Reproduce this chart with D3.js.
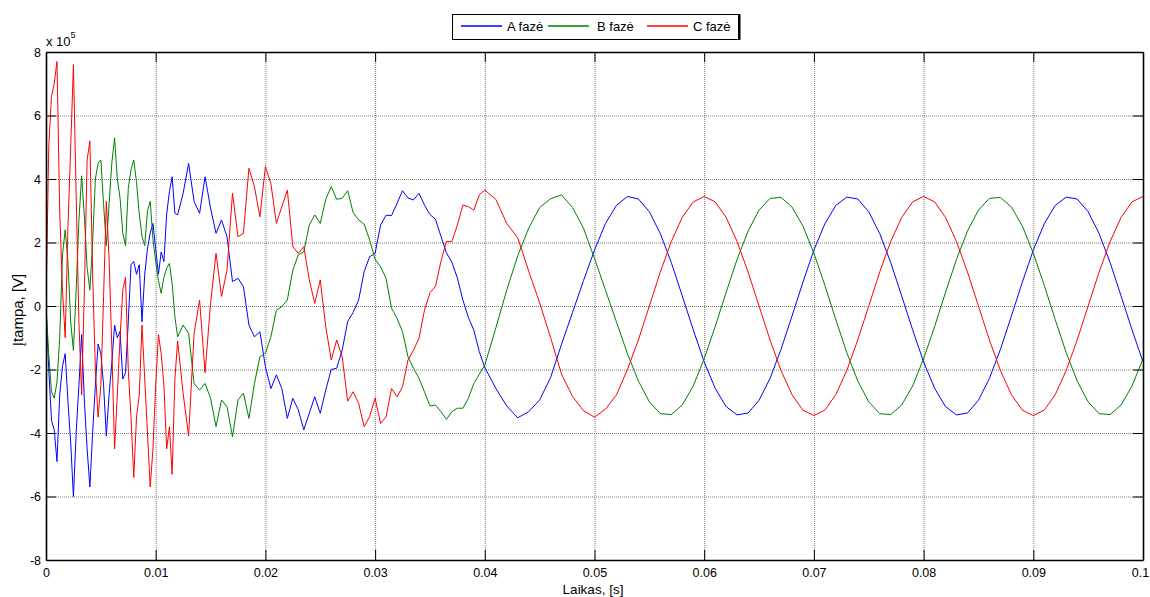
<!DOCTYPE html>
<html><head><meta charset="utf-8">
<script src="https://cdn.jsdelivr.net/npm/d3@7"></script>
<style>
body{margin:0;background:#fff}
svg{display:block}
text{font-family:"Liberation Sans",Arial,Helvetica,sans-serif}
</style>
</head><body>
<svg id="chart" width="1150" height="597"></svg>
<script>
// sample times in milliseconds
const timesMs = [
 0,0.25,0.5,0.75,1,1.25,1.5,1.75,2,2.25,2.5,2.75,3,3.25,3.5,3.75,4,4.25,4.5,4.75,5,5.25,5.5,5.75,6,6.25,6.5,6.75,7,7.25,7.5,7.75,8,8.25,8.5,8.75,9,9.25,9.5,9.75,10,10.25,10.5,10.75,11,11.25,11.5,11.75,12,
 12.5,13,13.5,14,14.5,15,15.5,16,16.5,17,17.5,18,18.5,19,19.5,20,20.5,21,21.5,22,22.5,23,23.5,24,24.5,25,25.5,26,26.5,27,27.5,28,28.5,29,29.5,30,30.5,31,31.5,32,32.5,33,33.5,34,34.5,35,35.5,36,36.5,37,37.5,38,38.5,39,39.5,40,
 41,42,43,44,45,46,47,48,49,50,51,52,53,54,55,56,57,58,59,60,61,62,63,64,65,66,67,68,69,70,71,72,73,74,75,76,77,78,79,80,81,82,83,84,85,86,87,88,89,90,91,92,93,94,95,96,97,98,99,100
];
// voltages in units of 10^5 V
const phaseA = [
 0,-2.0,-3.6,-3.9,-4.9,-2.8,-1.9,-1.5,-3.0,-4.3,-6.0,-4.0,-2.5,-0.9,-3.0,-4.5,-5.7,-4.0,-2.5,-1.2,-1.5,-2.5,-4.1,-2.8,-1.8,-0.6,-1.0,-0.8,-2.3,-2.1,-0.5,1.3,1.4,1.0,1.3,-0.5,1.0,1.8,2.3,2.6,1.8,1.0,1.7,1.4,2.9,3.6,4.07,2.92,2.87,
 3.55,4.49,3.29,2.92,4.07,3.08,2.29,2.71,2.18,0.77,0.87,0.61,-0.6,-0.97,-0.81,-1.91,-2.6,-2.17,-2.6,-3.54,-2.91,-3.27,-3.9,-3.38,-2.86,-3.38,-2.65,-2.0,-1.96,-1.39,-0.49,-0.2,0.19,1.08,1.55,1.66,2.55,2.86,2.85,3.23,3.63,3.4,3.34,3.55,3.18,2.88,2.73,2.2,1.68,1.38,0.88,0.19,-0.36,-0.76,-1.44,-1.94,
 -2.59,-3.15,-3.52,-3.33,-2.96,-2.25,-1.2,-0.2,0.8,1.76,2.6,3.17,3.45,3.37,2.97,2.28,1.37,0.32,-0.75,-1.76,-2.59,-3.17,-3.43,-3.37,-2.97,-2.28,-1.37,-0.32,0.75,1.76,2.59,3.17,3.43,3.37,2.97,2.28,1.37,0.32,-0.75,-1.76,-2.59,-3.17,-3.43,-3.37,-2.97,-2.28,-1.37,-0.32,0.75,1.76,2.59,3.17,3.43,3.37,2.97,2.28,1.37,0.32,-0.75,-1.76
];
const phaseB = [
 0,-1.5,-2.7,-2.9,-2.4,-1.0,1.6,2.4,1.4,-0.5,-1.4,0.5,2.7,4.1,2.8,1.2,0.5,2.0,4.0,4.5,4.6,3.2,1.9,3.2,4.5,5.3,4.0,3.4,2.3,1.9,3.7,4.3,4.6,3.9,2.9,2.2,1.9,3.0,3.3,2.1,1.4,0.8,0.4,0.9,1.19,1.34,0.71,-0.34,-0.97,
 -0.6,-0.86,-2.44,-2.65,-2.44,-2.9,-3.8,-2.96,-3.17,-4.12,-2.96,-2.75,-3.54,-2.44,-1.6,-1.49,-0.97,-0.13,-0.02,0.19,1.13,1.61,1.71,2.55,2.87,2.6,3.36,3.76,3.36,3.39,3.63,2.94,2.71,2.58,2.08,1.47,1.24,0.87,-0.07,-0.39,-0.81,-1.6,-1.96,-2.28,-2.7,-3.15,-3.12,-3.33,-3.57,-3.33,-3.22,-3.22,-2.91,-2.44,-2.15,-1.86,
 -0.7,0.5,1.58,2.45,3.1,3.38,3.5,3.1,2.45,1.5,0.5,-0.5,-1.5,-2.36,-3.02,-3.39,-3.42,-3.12,-2.52,-1.66,-0.65,0.43,1.47,2.36,3.02,3.39,3.42,3.12,2.52,1.66,0.65,-0.43,-1.47,-2.36,-3.02,-3.39,-3.42,-3.12,-2.52,-1.66,-0.65,0.43,1.47,2.36,3.02,3.39,3.42,3.12,2.52,1.66,0.65,-0.43,-1.47,-2.36,-3.02,-3.39,-3.42,-3.12,-2.52,-1.66
];
const phaseC = [
 0,5.0,6.6,7.0,7.7,3.0,0.5,-1.0,2.5,5.0,7.6,3.5,-0.5,-2.8,0.5,4.6,5.2,1.0,-2.0,-3.5,-2.5,0.3,3.3,1.5,-1.3,-4.5,-2.8,-1.0,0.5,0.9,-2.0,-3.5,-5.4,-3.5,-2.8,-0.6,-2.3,-4.0,-5.7,-4.5,-2.5,-0.9,-1.5,-2.5,-4.5,-3.8,-5.3,-2.3,-1.1,
 -2.75,-4.1,-0.86,0.19,-2.1,0.08,1.66,0.3,1.13,3.55,2.18,2.29,4.34,3.76,2.81,4.39,3.86,2.6,3.13,3.65,1.87,1.66,1.87,0.82,0.08,0.82,-0.65,-1.7,-1.07,-1.6,-3.0,-2.7,-3.07,-3.8,-3.49,-2.9,-3.7,-3.49,-2.6,-2.86,-2.54,-1.7,-1.39,-1.02,-0.13,0.42,0.61,1.4,2.03,2.03,2.55,3.18,3.13,3.02,3.5,3.65,
 3.36,2.6,2.15,1.1,0.1,-1.0,-2.15,-2.85,-3.3,-3.5,-3.25,-2.8,-2.0,-1.07,0,1.07,2.03,2.79,3.28,3.45,3.28,2.79,2.03,1.07,0,-1.07,-2.03,-2.79,-3.28,-3.45,-3.28,-2.79,-2.03,-1.07,0,1.07,2.03,2.79,3.28,3.45,3.28,2.79,2.03,1.07,0,-1.07,-2.03,-2.79,-3.28,-3.45,-3.28,-2.79,-2.03,-1.07,0,1.07,2.03,2.79,3.28,3.45
];
const seriesNames = ["A fazė","B fazė","C fazė"];
const seriesColors = ["#0000ff","#008000","#ff0000"];
const xTicks = [0,0.01,0.02,0.03,0.04,0.05,0.06,0.07,0.08,0.09,0.1];
const xTickLabels = ["0","0.01","0.02","0.03","0.04","0.05","0.06","0.07","0.08","0.09","0.1"];
const yTicks = [-8,-6,-4,-2,0,2,4,6,8];
const yTickLabels = ["-8","-6","-4","-2","0","2","4","6","8"];
const xLabel = "Laikas, [s]";
const yLabel = "Įtampa, [V]";

const svg = d3.select("#chart");
const L = 46, R = 1143, T = 52, B = 560;
const x = d3.scaleLinear().domain([0, 0.1]).range([L, R]);
const y = d3.scaleLinear().domain([-8, 8]).range([B, T]);

// grid
const gx = svg.append("g").attr("transform", `translate(0,${B})`)
  .call(d3.axisBottom(x).tickValues(xTicks.slice(1, -1)).tickSize(-(B - T)).tickFormat(""));
const gy = svg.append("g").attr("transform", `translate(${L},0)`)
  .call(d3.axisLeft(y).tickValues(yTicks.slice(1, -1)).tickSize(-(R - L)).tickFormat(""));
[gx, gy].forEach(g => {
  g.select(".domain").remove();
  g.selectAll("line").attr("stroke", "#7a7a7a").attr("stroke-width", 1).attr("stroke-dasharray", "1,1");
});

// clip
svg.append("clipPath").attr("id", "clip").append("rect")
  .attr("x", L).attr("y", T).attr("width", R - L).attr("height", B - T);

const series = [phaseA, phaseB, phaseC];
const line = d3.line().x(d => x(d.t / 1000)).y(d => y(d.v));
const plot = svg.append("g").attr("clip-path", "url(#clip)");
series.forEach((vals, i) => {
  const n = Math.min(vals.length, timesMs.length);
  const data = [];
  for (let k = 0; k < n; k++) data.push({ t: timesMs[k], v: vals[k] });
  plot.append("path").datum(data).attr("d", line)
    .attr("fill", "none").attr("stroke", seriesColors[i]).attr("stroke-width", 1);
});

// axes (ticks inward)
const fmtX = d => xTickLabels[xTicks.indexOf(d)];
const fmtY = d => yTickLabels[yTicks.indexOf(d)];
const axB = svg.append("g").attr("transform", `translate(0,${B})`)
  .call(d3.axisBottom(x).tickValues(xTicks).tickSize(-10).tickSizeOuter(0).tickPadding(8).tickFormat(fmtX));
const axT = svg.append("g").attr("transform", `translate(0,${T})`)
  .call(d3.axisTop(x).tickValues(xTicks).tickSize(-10).tickSizeOuter(0).tickFormat(""));
const axL = svg.append("g").attr("transform", `translate(${L},0)`)
  .call(d3.axisLeft(y).tickValues(yTicks).tickSize(-10).tickSizeOuter(0).tickPadding(5).tickFormat(fmtY));
const axR = svg.append("g").attr("transform", `translate(${R},0)`)
  .call(d3.axisRight(y).tickValues(yTicks).tickSize(-10).tickSizeOuter(0).tickFormat(""));
[axB, axT, axL, axR].forEach(g => {
  g.select(".domain").attr("stroke", "#000").attr("stroke-width", 1.6);
  g.selectAll(".tick line").attr("stroke", "#000").attr("stroke-width", 1);
  g.selectAll("text").attr("font-size", 12.5).attr("font-family", '"Liberation Sans",Arial,sans-serif').attr("fill", "#000");
});
// keep the last x label inside the picture
axB.selectAll(".tick text").filter(d => d === 0.1).attr("dx", -3);

// exponent
const ex = svg.append("text").attr("x", 46).attr("y", 46).attr("font-size", 13).attr("fill", "#000");
ex.append("tspan").text("x 10");
ex.append("tspan").attr("font-size", 9).attr("dy", -8).text("5");

// axis labels
svg.append("text").attr("x", 593).attr("y", 594).attr("text-anchor", "middle")
  .attr("font-size", 13.5).attr("fill", "#000").text(xLabel);
svg.append("text").attr("transform", "translate(23,310) rotate(-90)").attr("text-anchor", "middle")
  .attr("font-size", 15).attr("fill", "#000").text(yLabel);

// legend
const lg = svg.append("g");
lg.append("rect").attr("x", 452.5).attr("y", 14.5).attr("width", 286).attr("height", 25)
  .attr("fill", "#fff").attr("stroke", "#000").attr("stroke-width", 1);
lg.append("line").attr("x1", 739.5).attr("x2", 739.5).attr("y1", 14).attr("y2", 40)
  .attr("stroke", "#000").attr("stroke-width", 2);
const legLineX = [461, 548, 647];
const legTextX = [507, 597, 693];
seriesNames.forEach((nm, i) => {
  lg.append("line").attr("x1", legLineX[i]).attr("x2", legLineX[i] + 41).attr("y1", 26).attr("y2", 26)
    .attr("stroke", seriesColors[i]).attr("stroke-width", 1.3);
  lg.append("text").attr("x", legTextX[i]).attr("y", 30.5).attr("font-size", 13).attr("fill", "#000").text(nm);
});
</script>
</body></html>
